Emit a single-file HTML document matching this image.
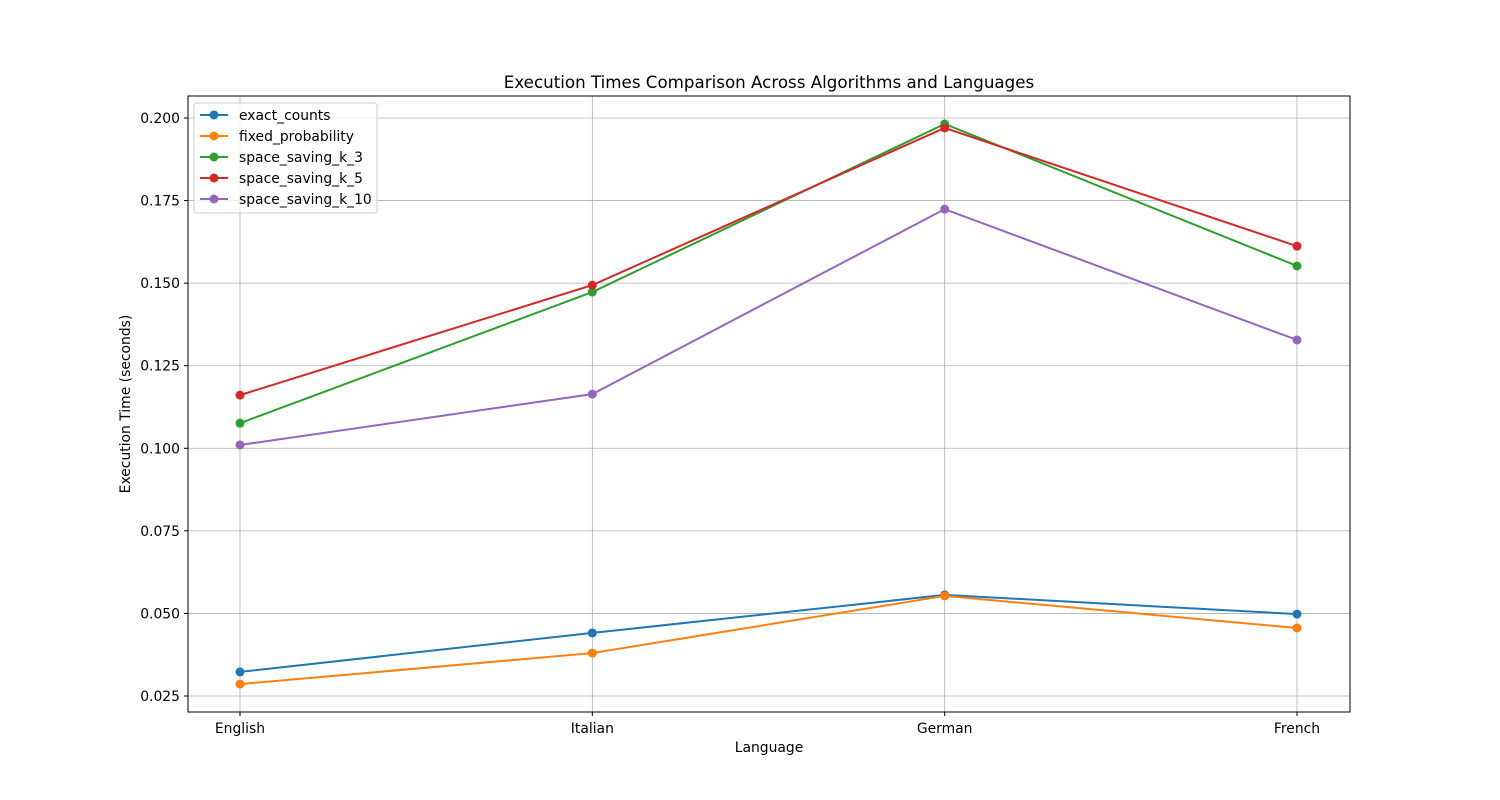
<!DOCTYPE html>
<html><head><meta charset="utf-8"><style>
html,body{margin:0;padding:0;background:#fff;}
svg{display:block;font-family:"DejaVu Sans","Liberation Sans",sans-serif;}
</style></head><body>
<svg id="chart" width="1500" height="800" viewBox="0 0 1500 800" xmlns="http://www.w3.org/2000/svg">
<rect x="0" y="0" width="1500" height="800" fill="#fff"/>
<text x="769" y="88" font-size="16.7" text-anchor="middle" fill="#000">Execution Times Comparison Across Algorithms and Languages</text>
<text x="769" y="752" font-size="13.9" text-anchor="middle" fill="#000">Language</text>
<text x="130" y="404" font-size="13.9" text-anchor="middle" fill="#000" transform="rotate(-90 130 404)">Execution Time (seconds)</text>
<g id="grid"></g><g id="series"></g><g id="ticks"></g>
<rect x="188" y="96" width="1162" height="616" fill="none" stroke="#000" stroke-width="1"/>
<g id="legend"></g>
</svg>
<script>
const categories = ["English","Italian","German","French"];
const seriesNames = ["exact_counts","fixed_probability","space_saving_k_3","space_saving_k_5","space_saving_k_10"];
const exactCounts = [0.0323,0.0441,0.0556,0.0498];
const fixedProbability = [0.0286,0.0380,0.0553,0.0456];
const spaceSavingK3 = [0.1076,0.1473,0.1982,0.1552];
const spaceSavingK5 = [0.1161,0.1494,0.1970,0.1612];
const spaceSavingK10 = [0.1010,0.1164,0.1724,0.1328];
const yTicks = [0.025,0.050,0.075,0.100,0.125,0.150,0.175,0.200];
const yTickLabels = ["0.025","0.050","0.075","0.100","0.125","0.150","0.175","0.200"];
const colors = ["#1f77b4","#ff7f0e","#2ca02c","#d62728","#9467bd"];
const allSeries = [exactCounts,fixedProbability,spaceSavingK3,spaceSavingK5,spaceSavingK10];
const NS="http://www.w3.org/2000/svg";
function xs(i){return 240+i*(1297-240)/(categories.length-1);}
function ys(v){return 118+(0.2-v)*(696-118)/0.175;}
function mk(tag,attrs,parent){const e=document.createElementNS(NS,tag);for(const k in attrs)e.setAttribute(k,attrs[k]);parent.appendChild(e);return e;}
const grid=document.getElementById('grid'),ticks=document.getElementById('ticks'),ser=document.getElementById('series'),leg=document.getElementById('legend');
categories.forEach((c,i)=>{
  const x=xs(i);
  const g=mk('line',{x1:x,x2:x,y1:96,y2:712,stroke:'#b0b0b0','stroke-width':0.8},grid);
  
  
  const t=mk('line',{x1:x,x2:x,y1:712,y2:716,stroke:'#000'},ticks);
  
  
  const l=mk('text',{x:x,y:733,'font-size':13.9,'text-anchor':'middle',fill:'#000'},ticks);
  l.textContent=c;
  
  
});
yTicks.forEach((v,i)=>{
  const y=ys(v);
  const g=mk('line',{x1:188,x2:1350,y1:y,y2:y,stroke:'#b0b0b0','stroke-width':0.8},grid);
  
  
  const t=mk('line',{x1:184,x2:188,y1:y,y2:y,stroke:'#000'},ticks);
  
  
  const l=mk('text',{x:180,y:y+5,'font-size':13.9,'text-anchor':'end',fill:'#000'},ticks);
  l.textContent=yTickLabels[i];
  
  
});
allSeries.forEach((vals,s)=>{
  const pts=vals.map((v,i)=>xs(i)+','+ys(v)).join(' ');
  const pl=mk('polyline',{points:pts,fill:'none',stroke:colors[s],'stroke-width':2},ser);
  
  
  vals.forEach((v,i)=>{
    const c=mk('circle',{cx:xs(i),cy:ys(v),r:4.5,fill:colors[s]},ser);
    
    
  });
});
const box=mk('rect',{x:194,y:103,width:183,height:110,rx:3,fill:'#fff','fill-opacity':0.8,stroke:'#ccc'},leg);


seriesNames.forEach((n,s)=>{
  const y=115+s*21;
  const ln=mk('line',{x1:200,x2:228,y1:y,y2:y,stroke:colors[s],'stroke-width':2},leg);
  
  
  const c=mk('circle',{cx:214,cy:y,r:4.5,fill:colors[s]},leg);
  
  
  const t=mk('text',{x:239,y:y+5,'font-size':13.9,fill:'#000'},leg);
  t.textContent=n;
  
  
});
</script>
</body></html>
